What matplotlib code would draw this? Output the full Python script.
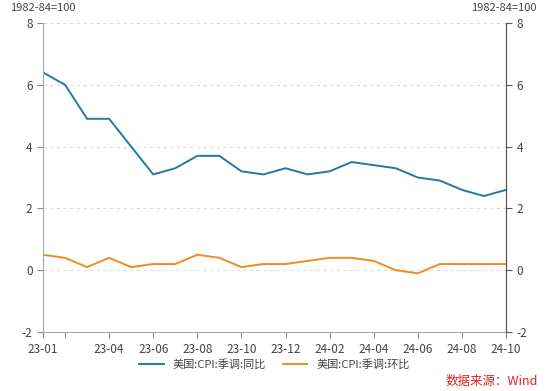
import matplotlib
matplotlib.use("Agg")
import matplotlib.pyplot as plt

plt.rcParams['font.family'] = ['Noto Sans CJK SC', 'DejaVu Sans']

# data
months = ['23-01', '23-02', '23-03', '23-04', '23-05', '23-06', '23-07', '23-08',
          '23-09', '23-10', '23-11', '23-12', '24-01', '24-02', '24-03', '24-04',
          '24-05', '24-06', '24-07', '24-08', '24-09', '24-10']
yoy = [6.4, 6.0, 4.9, 4.9, 4.0, 3.1, 3.3, 3.7, 3.7, 3.2, 3.1, 3.3,
       3.1, 3.2, 3.5, 3.4, 3.3, 3.0, 2.9, 2.6, 2.4, 2.6]
mom = [0.5, 0.4, 0.1, 0.4, 0.1, 0.2, 0.2, 0.5, 0.4, 0.1, 0.2, 0.2,
       0.3, 0.4, 0.4, 0.3, 0.0, -0.1, 0.2, 0.2, 0.2, 0.2]
yticks = [-2, 0, 2, 4, 6, 8]
label_yoy = '美国:CPI:季调:同比'
label_mom = '美国:CPI:季调:环比'

blue = '#2378a8'
orange = '#f5891f'
text_c = '#444444'

fig = plt.figure(figsize=(5.5, 3.91), dpi=100)
ax = fig.add_axes([43/550, 1-332/391, (506-43)/550, (332-23)/391])

x = list(range(len(months)))
ax.plot(x, yoy, color=blue, lw=1.4, label=label_yoy)
ax.plot(x, mom, color=orange, lw=1.4, label=label_mom)

ax.set_xlim(0, len(months)-1)
ax.set_ylim(-2, 8)

# ticks: 23-01, 23-02 (no label), then every two months
tick_idx = [0, 1] + list(range(3, len(months), 2))
ax.set_xticks(tick_idx)
ax.set_xticklabels(['' if i == 1 else months[i] for i in tick_idx])

ax.set_yticks(yticks)
ax.set_yticklabels([str(v) for v in yticks])
for v in yticks[1:]:
    ax.axhline(v, color='#dddddd', lw=0.8, ls=(0, (3, 3)), zorder=0)

ax.spines['top'].set_visible(False)
ax.spines['left'].set_color('#aaaaaa')
ax.spines['bottom'].set_color('#aaaaaa')
ax.spines['right'].set_color('#555555')
ax.tick_params(axis='both', labelsize=8.5, colors='#888888', labelcolor=text_c,
               length=4, width=0.8)
ax.tick_params(axis='x', pad=4)

ax2 = ax.twinx()
ax2.set_ylim(-2, 8)
ax2.set_yticks(yticks)
ax2.set_yticklabels([str(v) for v in yticks])
for s in ['top', 'left', 'bottom']:
    ax2.spines[s].set_visible(False)
ax2.spines['right'].set_color('#555555')
ax2.tick_params(axis='y', labelsize=8.5, colors='#555555', labelcolor=text_c,
                length=4, width=0.8)

fig.text(10/550, 1-8/391, '1982-84=100', fontsize=8, color=text_c, va='center')
fig.text(537/550, 1-8/391, '1982-84=100', fontsize=8, color=text_c, va='center', ha='right')

ax.legend(loc='center', bbox_to_anchor=(0.5, -0.105), ncol=2, frameon=False,
          fontsize=8, handlelength=2.2, columnspacing=1.5, labelcolor=text_c)

fig.text(538/550, 1-381/391, '数据来源：Wind', fontsize=9, color='#e02020',
         ha='right', va='center')

fig.savefig('out.png', dpi=100)
plt.close()
